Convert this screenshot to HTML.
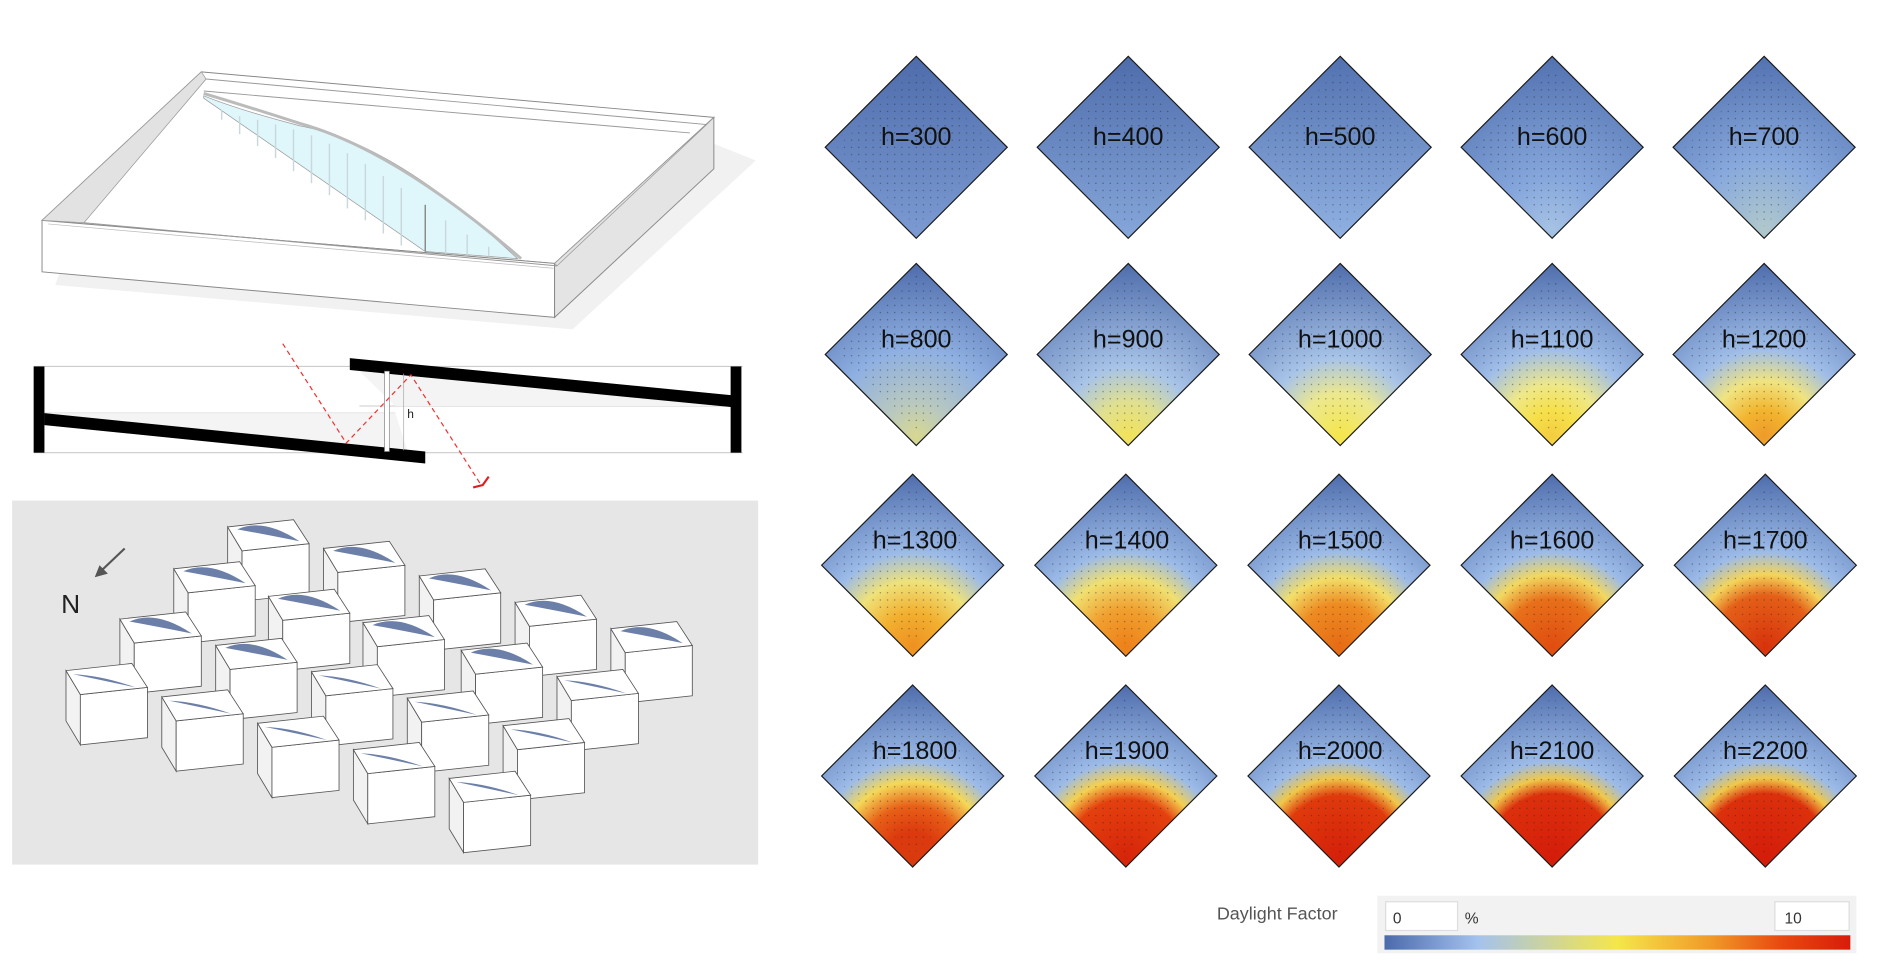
<!DOCTYPE html>
<html><head><meta charset="utf-8"><style>
html,body{margin:0;padding:0;background:#fff;}
svg{display:block;}
text{font-family:"Liberation Sans",sans-serif;}
</style></head><body>
<svg width="1878" height="976" viewBox="0 0 1568 815" xmlns="http://www.w3.org/2000/svg">
<defs>
<pattern id="dots" width="6" height="6" patternUnits="userSpaceOnUse"><circle cx="3" cy="3" r="0.55" fill="#222" opacity="0.55"/></pattern>
<linearGradient id="g300" x1="0" y1="0" x2="0" y2="1"><stop offset="0" stop-color="#4e6cab"/><stop offset="1" stop-color="#7c9bd3"/></linearGradient>
<linearGradient id="g400" x1="0" y1="0" x2="0" y2="1"><stop offset="0" stop-color="#4e6cab"/><stop offset="1" stop-color="#86a7da"/></linearGradient>
<linearGradient id="g500" x1="0" y1="0" x2="0" y2="1"><stop offset="0" stop-color="#5271b0"/><stop offset="1" stop-color="#90b1e2"/></linearGradient>
<radialGradient id="g600" cx="0.5" cy="0.95" r="0.95"><stop offset="0" stop-color="#a6c2e4"/><stop offset="0.3" stop-color="#86a7dc"/><stop offset="1" stop-color="#5271b0"/></radialGradient>
<radialGradient id="g700" cx="0.5" cy="0.95" r="0.95"><stop offset="0" stop-color="#b0c8cc"/><stop offset="0.4" stop-color="#88a9dd"/><stop offset="1" stop-color="#5271b0"/></radialGradient>
<radialGradient id="g800" cx="0.5" cy="0.95" r="0.95"><stop offset="0" stop-color="#d8d890"/><stop offset="0.2" stop-color="#b8c8c0"/><stop offset="0.5" stop-color="#8fb0e2"/><stop offset="1" stop-color="#4e6cab"/></radialGradient>
<radialGradient id="g900" cx="0.5" cy="0.95" r="0.95"><stop offset="0" stop-color="#f2e25a"/><stop offset="0.2" stop-color="#e0e090"/><stop offset="0.4" stop-color="#a8c4e8"/><stop offset="1" stop-color="#4e6cab"/></radialGradient>
<radialGradient id="g1000" cx="0.5" cy="0.95" r="0.95"><stop offset="0" stop-color="#f5e64a"/><stop offset="0.25" stop-color="#ece890"/><stop offset="0.45" stop-color="#a8c4e8"/><stop offset="1" stop-color="#4e6cab"/></radialGradient>
<radialGradient id="g1100" cx="0.5" cy="0.95" r="0.95"><stop offset="0" stop-color="#f4cc40"/><stop offset="0.15" stop-color="#f6e04a"/><stop offset="0.3" stop-color="#eee88a"/><stop offset="0.5" stop-color="#a0bee8"/><stop offset="1" stop-color="#4e6cab"/></radialGradient>
<radialGradient id="g1200" cx="0.5" cy="0.95" r="0.95"><stop offset="0" stop-color="#ee9a2a"/><stop offset="0.15" stop-color="#f2b42e"/><stop offset="0.32" stop-color="#f0e480"/><stop offset="0.5" stop-color="#a0bee8"/><stop offset="1" stop-color="#4e6cab"/></radialGradient>
<radialGradient id="g1300" cx="0.5" cy="0.95" r="0.95"><stop offset="0" stop-color="#ee9020"/><stop offset="0.2" stop-color="#f2b030"/><stop offset="0.38" stop-color="#eee27a"/><stop offset="0.55" stop-color="#9cbbe8"/><stop offset="1" stop-color="#4e6cab"/></radialGradient>
<radialGradient id="g1400" cx="0.5" cy="0.95" r="0.95"><stop offset="0" stop-color="#ee8018"/><stop offset="0.22" stop-color="#f0a030"/><stop offset="0.4" stop-color="#f0e070"/><stop offset="0.55" stop-color="#9cbbe8"/><stop offset="1" stop-color="#4e6cab"/></radialGradient>
<radialGradient id="g1500" cx="0.5" cy="0.95" r="0.95"><stop offset="0" stop-color="#e66a14"/><stop offset="0.25" stop-color="#ee8c22"/><stop offset="0.4" stop-color="#f2de68"/><stop offset="0.55" stop-color="#9cbbe8"/><stop offset="1" stop-color="#4e6cab"/></radialGradient>
<radialGradient id="g1600" cx="0.5" cy="0.95" r="0.95"><stop offset="0" stop-color="#e04c10"/><stop offset="0.28" stop-color="#e8701a"/><stop offset="0.42" stop-color="#f2d860"/><stop offset="0.55" stop-color="#9cbbe8"/><stop offset="1" stop-color="#4e6cab"/></radialGradient>
<radialGradient id="g1700" cx="0.5" cy="0.95" r="0.95"><stop offset="0" stop-color="#d8320c"/><stop offset="0.3" stop-color="#e46018"/><stop offset="0.42" stop-color="#f4d45a"/><stop offset="0.55" stop-color="#9cbbe8"/><stop offset="1" stop-color="#4e6cab"/></radialGradient>
<radialGradient id="g1800" cx="0.5" cy="0.95" r="0.95"><stop offset="0" stop-color="#d83a0e"/><stop offset="0.15" stop-color="#dc3a0e"/><stop offset="0.3" stop-color="#e86018"/><stop offset="0.44" stop-color="#f4d858"/><stop offset="0.56" stop-color="#9cbbe8"/><stop offset="1" stop-color="#4e6cab"/></radialGradient>
<radialGradient id="g1900" cx="0.5" cy="0.95" r="0.95"><stop offset="0" stop-color="#d6240a"/><stop offset="0.34" stop-color="#e4400e"/><stop offset="0.45" stop-color="#f4d050"/><stop offset="0.56" stop-color="#9cbbe8"/><stop offset="1" stop-color="#4e6cab"/></radialGradient>
<radialGradient id="g2000" cx="0.5" cy="0.95" r="0.95"><stop offset="0" stop-color="#d4200a"/><stop offset="0.36" stop-color="#e03a0c"/><stop offset="0.46" stop-color="#f0c84a"/><stop offset="0.56" stop-color="#9cbbe8"/><stop offset="1" stop-color="#4e6cab"/></radialGradient>
<radialGradient id="g2100" cx="0.5" cy="0.95" r="0.95"><stop offset="0" stop-color="#d41c0a"/><stop offset="0.37" stop-color="#dc300c"/><stop offset="0.46" stop-color="#f0c84a"/><stop offset="0.56" stop-color="#9cbbe8"/><stop offset="1" stop-color="#4e6cab"/></radialGradient>
<linearGradient id="leg" x1="0" y1="0" x2="1" y2="0"><stop offset="0" stop-color="#4a6aab"/><stop offset="0.2" stop-color="#a4c2ee"/><stop offset="0.5" stop-color="#f5e64a"/><stop offset="0.7" stop-color="#f09a28"/><stop offset="0.85" stop-color="#e84a10"/><stop offset="1" stop-color="#d81c0a"/></linearGradient>
<g id="cube">
<polygon points="0,0 12,20 12,62 0,42" fill="#f2f2f2" stroke="#555" stroke-width="0.7"/>
<polygon points="12,20 68,14 68,56 12,62" fill="#fff" stroke="#555" stroke-width="0.7"/>
<polygon points="0,0 55,-6 68,14 12,20" fill="#fff" stroke="#555" stroke-width="0.7"/>
</g>
<path id="lensA" d="M8,2 Q30,-8 60,12 Q30,6 8,2Z" fill="#6b7fa8"/>
<path id="lensB" d="M6,3 Q30,4 58,14 Q30,8 6,3Z" fill="#6b7fa8"/>
</defs>

<!-- 3D box drawing -->
<polygon points="631,134 478,275 46,238 60,200 596,120" fill="#f1f1f1"/>
<polygon points="168,60 596,98 463,220 35,184" fill="#fff" stroke="#888" stroke-width="0.8"/>
<polygon points="35,184 463,220 463,265 35,227" fill="#fff" stroke="#888" stroke-width="0.8"/>
<polygon points="463,220 596,98 596,141 463,265" fill="#e4e4e4" stroke="#888" stroke-width="0.8"/>
<polygon points="168,60 172,66 70,186 35,184" fill="#e2e2e2" stroke="#999" stroke-width="0.6"/>
<polygon points="596,98 590,104 465,222 463,220" fill="#e2e2e2" stroke="#999" stroke-width="0.6"/>
<line x1="172" y1="66" x2="590" y2="104" stroke="#999" stroke-width="0.8"/>
<line x1="170" y1="76" x2="576" y2="111" stroke="#999" stroke-width="0.8"/>
<line x1="70" y1="186" x2="465" y2="222" stroke="#999" stroke-width="0.8"/>
<line x1="40" y1="187" x2="462" y2="224" stroke="#bbb" stroke-width="0.6"/>
<path d="M170,82 L355,210 L432,216 Q330,120 250,105 Q200,92 170,80Z" fill="#dff7fb" stroke="#999" stroke-width="0.6"/>
<path d="M170,78 Q210,90 250,103 Q330,125 435,216" fill="none" stroke="#bbb" stroke-width="2.5"/>
<g stroke="#c8d8dc" stroke-width="1.2">
<line x1="185" y1="92" x2="185" y2="100"/><line x1="200" y1="97" x2="200" y2="112"/><line x1="215" y1="100" x2="215" y2="122"/><line x1="230" y1="104" x2="230" y2="132"/><line x1="245" y1="108" x2="245" y2="143"/><line x1="260" y1="113" x2="260" y2="153"/><line x1="275" y1="120" x2="275" y2="163"/><line x1="290" y1="128" x2="290" y2="174"/><line x1="305" y1="137" x2="305" y2="184"/><line x1="320" y1="147" x2="320" y2="195"/><line x1="335" y1="157" x2="335" y2="205"/><line x1="355" y1="171" x2="355" y2="210" stroke="#888"/><line x1="372" y1="184" x2="372" y2="212"/><line x1="390" y1="196" x2="390" y2="213"/><line x1="408" y1="206" x2="408" y2="214"/>
</g>

<!-- section -->
<line x1="28" y1="306" x2="620" y2="306" stroke="#ccc" stroke-width="1"/>
<line x1="28" y1="378" x2="620" y2="378" stroke="#ccc" stroke-width="1"/>
<line x1="37" y1="345" x2="330" y2="345" stroke="#ccc" stroke-width="0.8"/>
<line x1="300" y1="339" x2="610" y2="339" stroke="#ccc" stroke-width="0.8"/>
<polygon points="37,345 330,345 340,376" fill="#f4f4f4"/>
<polygon points="300,310 610,339 330,339" fill="#f4f4f4"/>
<rect x="28" y="306" width="9" height="72" fill="#000"/>
<rect x="610" y="306" width="9" height="72" fill="#000"/>
<polygon points="292,299 611,330 611,340 292,309" fill="#000"/>
<polygon points="37,345 355,377 355,387 37,355" fill="#000"/>
<rect x="321" y="310" width="4" height="67" fill="#fff" stroke="#888" stroke-width="0.6"/>
<line x1="337" y1="312" x2="337" y2="376" stroke="#aaa" stroke-width="0.6"/>
<text x="340" y="349" font-size="10" fill="#222">h</text>
<polyline points="236,287 289,370 343,313 401,404" fill="none" stroke="#f03030" stroke-width="1" stroke-dasharray="4,3"/>
<polyline points="395,407 403,405 408,398" fill="none" stroke="#e02020" stroke-width="1.8"/>

<!-- cube panel -->
<rect x="10" y="418" width="623" height="304" fill="#e6e6e6"/>
<line x1="104" y1="458" x2="84" y2="477" stroke="#555" stroke-width="1.8"/>
<polygon points="79,482 90,479 83,472" fill="#555"/>
<text x="51" y="512" font-size="22" fill="#222">N</text>
<g>
<use href="#cube" x="190" y="440"/><use href="#lensA" x="190" y="440"/>
<use href="#cube" x="270" y="458"/><use href="#lensA" x="270" y="458"/>
<use href="#cube" x="350" y="481"/><use href="#lensA" x="350" y="481"/>
<use href="#cube" x="430" y="503"/><use href="#lensA" x="430" y="503"/>
<use href="#cube" x="510" y="525"/><use href="#lensA" x="510" y="525"/>
<use href="#cube" x="145" y="475"/><use href="#lensA" x="145" y="475"/>
<use href="#cube" x="224" y="498"/><use href="#lensA" x="224" y="498"/>
<use href="#cube" x="303" y="520"/><use href="#lensA" x="303" y="520"/>
<use href="#cube" x="385" y="543"/><use href="#lensA" x="385" y="543"/>
<use href="#cube" x="465" y="565"/><use href="#lensB" x="465" y="565"/>
<use href="#cube" x="100" y="517"/><use href="#lensA" x="100" y="517"/>
<use href="#cube" x="180" y="539"/><use href="#lensA" x="180" y="539"/>
<use href="#cube" x="260" y="561"/><use href="#lensB" x="260" y="561"/>
<use href="#cube" x="340" y="583"/><use href="#lensB" x="340" y="583"/>
<use href="#cube" x="420" y="606"/><use href="#lensB" x="420" y="606"/>
<use href="#cube" x="55" y="560"/><use href="#lensB" x="55" y="560"/>
<use href="#cube" x="135" y="582"/><use href="#lensB" x="135" y="582"/>
<use href="#cube" x="215" y="604"/><use href="#lensB" x="215" y="604"/>
<use href="#cube" x="295" y="626"/><use href="#lensB" x="295" y="626"/>
<use href="#cube" x="375" y="650"/><use href="#lensB" x="375" y="650"/>
</g>

<!-- diamonds -->
<g stroke="#1a1a1a" stroke-width="1">
<polygon points="765,47 841,123 765,199 689,123" fill="url(#g300)"/>
<polygon points="942,47 1018,123 942,199 866,123" fill="url(#g400)"/>
<polygon points="1119,47 1195,123 1119,199 1043,123" fill="url(#g500)"/>
<polygon points="1296,47 1372,123 1296,199 1220,123" fill="url(#g600)"/>
<polygon points="1473,47 1549,123 1473,199 1397,123" fill="url(#g700)"/>
<polygon points="765,220 841,296 765,372 689,296" fill="url(#g800)"/>
<polygon points="942,220 1018,296 942,372 866,296" fill="url(#g900)"/>
<polygon points="1119,220 1195,296 1119,372 1043,296" fill="url(#g1000)"/>
<polygon points="1296,220 1372,296 1296,372 1220,296" fill="url(#g1100)"/>
<polygon points="1473,220 1549,296 1473,372 1397,296" fill="url(#g1200)"/>
<polygon points="762,396 838,472 762,548 686,472" fill="url(#g1300)"/>
<polygon points="940,396 1016,472 940,548 864,472" fill="url(#g1400)"/>
<polygon points="1118,396 1194,472 1118,548 1042,472" fill="url(#g1500)"/>
<polygon points="1296,396 1372,472 1296,548 1220,472" fill="url(#g1600)"/>
<polygon points="1474,396 1550,472 1474,548 1398,472" fill="url(#g1700)"/>
<polygon points="762,572 838,648 762,724 686,648" fill="url(#g1800)"/>
<polygon points="940,572 1016,648 940,724 864,648" fill="url(#g1900)"/>
<polygon points="1118,572 1194,648 1118,724 1042,648" fill="url(#g2000)"/>
<polygon points="1296,572 1372,648 1296,724 1220,648" fill="url(#g2100)"/>
<polygon points="1474,572 1550,648 1474,724 1398,648" fill="url(#g2100)"/>
</g>
<g fill="url(#dots)" stroke="none">
<polygon points="765,57 831,123 765,189 699,123"/><polygon points="942,57 1008,123 942,189 876,123"/><polygon points="1119,57 1185,123 1119,189 1053,123"/><polygon points="1296,57 1362,123 1296,189 1230,123"/><polygon points="1473,57 1539,123 1473,189 1407,123"/>
<polygon points="765,230 831,296 765,362 699,296"/><polygon points="942,230 1008,296 942,362 876,296"/><polygon points="1119,230 1185,296 1119,362 1053,296"/><polygon points="1296,230 1362,296 1296,362 1230,296"/><polygon points="1473,230 1539,296 1473,362 1407,296"/>
<polygon points="762,406 828,472 762,538 696,472"/><polygon points="940,406 1006,472 940,538 874,472"/><polygon points="1118,406 1184,472 1118,538 1052,472"/><polygon points="1296,406 1362,472 1296,538 1230,472"/><polygon points="1474,406 1540,472 1474,538 1408,472"/>
<polygon points="762,582 828,648 762,714 696,648"/><polygon points="940,582 1006,648 940,714 874,648"/><polygon points="1118,582 1184,648 1118,714 1052,648"/><polygon points="1296,582 1362,648 1296,714 1230,648"/><polygon points="1474,582 1540,648 1474,714 1408,648"/>
</g>
<g font-size="21" fill="#111" text-anchor="middle">
<text x="765" y="121">h=300</text><text x="942" y="121">h=400</text><text x="1119" y="121">h=500</text><text x="1296" y="121">h=600</text><text x="1473" y="121">h=700</text>
<text x="765" y="290">h=800</text><text x="942" y="290">h=900</text><text x="1119" y="290">h=1000</text><text x="1296" y="290">h=1100</text><text x="1473" y="290">h=1200</text>
<text x="764" y="458">h=1300</text><text x="941" y="458">h=1400</text><text x="1119" y="458">h=1500</text><text x="1296" y="458">h=1600</text><text x="1474" y="458">h=1700</text>
<text x="764" y="634">h=1800</text><text x="941" y="634">h=1900</text><text x="1119" y="634">h=2000</text><text x="1296" y="634">h=2100</text><text x="1474" y="634">h=2200</text>
</g>

<!-- legend -->
<text x="1016" y="768" font-size="15" fill="#555">Daylight Factor</text>
<rect x="1150" y="748" width="400" height="48" fill="#f2f2f2"/>
<rect x="1157" y="753" width="60" height="24" fill="#fff" stroke="#ddd"/>
<text x="1163" y="771" font-size="13" fill="#333">0</text>
<text x="1223" y="771" font-size="13" fill="#333">%</text>
<rect x="1482" y="753" width="62" height="24" fill="#fff" stroke="#ddd"/>
<text x="1490" y="771" font-size="13" fill="#333">10</text>
<rect x="1156" y="781" width="389" height="12" fill="url(#leg)"/>
</svg>
</body></html>
